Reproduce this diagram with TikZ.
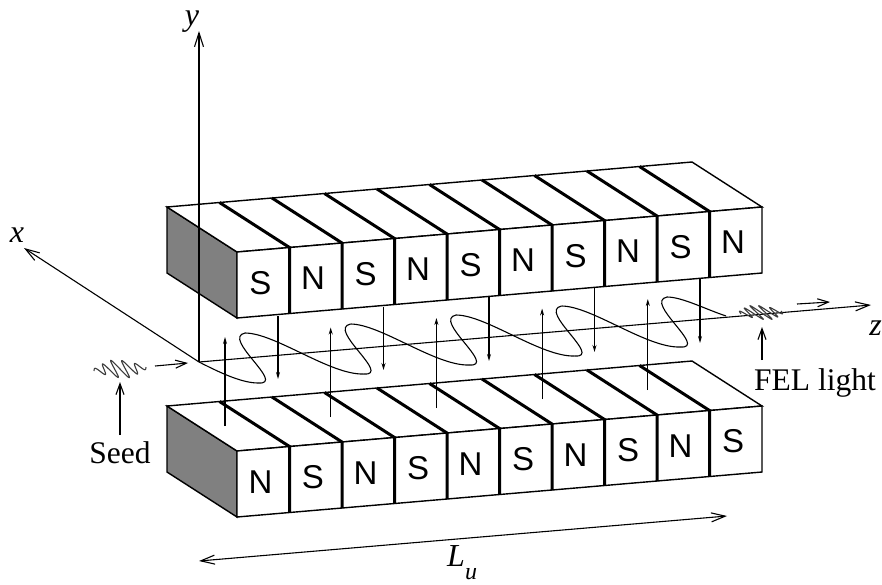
\documentclass[tikz,border=0pt]{standalone}
\usepackage{fontspec}
\setmainfont{Liberation Serif}
\setsansfont{Liberation Sans}
\usetikzlibrary{arrows.meta,positioning,calc}
\definecolor{facegray}{RGB}{128,128,128}
\definecolor{packetgray}{RGB}{60,60,60}
\tikzset{
  face/.style={draw=black, line width=1.4pt, fill=white, line join=miter},
  sideface/.style={face, fill=facegray},
  divider/.style={draw=black, line width=3pt},
  polelabel/.style={font=\fontsize{33}{33}\selectfont\sffamily, inner sep=0pt},
  textlabel/.style={font=\fontsize{31.5}{31.5}\selectfont, inner sep=0pt},
  mathlabel/.style={font=\fontsize{32}{32}\selectfont\itshape, inner sep=0pt},
  axis/.style={-{Straight Barb[length=14pt,width=9pt]}, line width=1.1pt},
  pointer/.style={-{Straight Barb[length=11pt,width=8pt]}, line width=1.1pt},
  field/.style={-{Stealth[length=7pt,width=4pt]}, line width=1.1pt},
  orbit/.style={line width=1.1pt},
  packet/.style={line width=1.1pt, packetgray, smooth, samples=160},
}
\begin{document}
\begin{tikzpicture}[x=1pt,y=-1pt]
\useasboundingbox (0,0) rectangle (882,584);
% magnets
\foreach \dy/\first/\second in {0/S/N,199/N/S}{
  \draw[sideface] (167,207+\dy) -- (237,252+\dy) -- (237,318+\dy) -- (167,273+\dy) -- cycle;
  \draw[face] (167,207+\dy) -- (692,162+\dy) -- (762,207+\dy) -- (237,252+\dy) -- cycle;
  \draw[face] (237,252+\dy) -- (762,207+\dy) -- (762,273+\dy) -- (237,318+\dy) -- cycle;
  \foreach \i in {1,...,9}{
    \draw[divider] ({167+52.5*\i},{207+\dy-4.5*\i}) -- ({237+52.5*\i},{252+\dy-4.5*\i}) -- ({237+52.5*\i},{318+\dy-4.5*\i});
  }
  \foreach \i in {0,2,4,6,8}{
    \node[polelabel] (pole-\dy-\i) at ({260.5+52.5*\i},{\dy+282.8-4.5*\i}) {\first};
  }
  \foreach \i in {1,3,5,7,9}{
    \node[polelabel] (pole-\dy-\i) at ({260.5+52.5*\i},{\dy+282.8-4.5*\i}) {\second};
  }
}
% axes
\coordinate (origin) at (199,362);
\coordinate (xtip) at (24,248);
\coordinate (ytip) at (199,31);
\coordinate (ztip) at (871,305);
\draw[axis] (origin) -- (xtip);
\draw[axis] (origin) -- (ytip);
\draw[axis] (origin) -- (ztip);
\node[mathlabel, anchor=base] (xlabel) at (17,242) {x};
\node[mathlabel, anchor=base] (ylabel) at (192,25) {y};
\node[mathlabel, anchor=base east] (zlabel) at (882,335) {z};
% orbit
\draw[orbit] (origin) .. controls (215,370) and (240,383) .. (258,383);
\foreach \i in {0,...,4}{
  \draw[orbit] ({258+105.5*\i},{383-9*\i}) .. controls ({287+105.5*\i},{385-9*\i}) and ({221+105.5*\i},{338-9*\i}) .. ({245+105.5*\i},{333-9*\i});
}
\foreach \i in {0,...,3}{
  \draw[orbit] ({245+105.5*\i},{333-9*\i}) .. controls ({275+105.5*\i},{333-9*\i}) and ({330+105.5*\i},{375-9*\i}) .. ({363.5+105.5*\i},{374-9*\i});
}
\draw[orbit] (667,297) .. controls (682,297) and (705,309) .. (726,316);
% field
\foreach \i in {0,...,4}{
  \draw[field] ({225+105.7*\i},{426-9*\i}) -- ({225+105.7*\i},{337-9.5*\i});
  \draw[field] ({278+105.5*\i},{316-9.5*\i}) -- ({278+105.5*\i},{379-9*\i});
}
% seed
\coordinate (seedwave) at (120,369);
\coordinate (seedtip) at (120,382);
\coordinate (seedout) at (155,366);
\coordinate (seedin) at (188,363);
\draw[packet, shift={(seedwave)}] plot[domain=-1:1] ({26*\x+0.75*9*exp(-1.6*\x*\x)*sin(900*\x)},{-2*\x+9*exp(-1.6*\x*\x)*sin(900*\x)});
\node[textlabel, anchor=base] (seedlabel) at (120,463) {Seed};
\draw[pointer] (120,435) -- (seedtip);
\draw[pointer] (seedout) -- (seedin);
% light
\coordinate (felwave) at (761,312.5);
\coordinate (feltail) at (762,360);
\coordinate (feltip) at (762,327);
\coordinate (felout) at (797,304);
\coordinate (felin) at (830,302);
\draw[packet, shift={(felwave)}] plot[domain=-1:1] ({20*\x+9*exp(-1.2*\x*\x)*sin(900*\x)},{-1.5*\x+7*exp(-1.2*\x*\x)*sin(900*\x)});
\node[textlabel, anchor=base] (fellabel) at (815,390) {FEL light};
\draw[pointer] (feltail) -- (feltip);
\draw[pointer] (felout) -- (felin);
% length
\coordinate (lengthleft) at (199,561);
\coordinate (lengthright) at (727,516);
\draw[axis, {Straight Barb[length=14pt,width=9pt]}-{Straight Barb[length=14pt,width=9pt]}] (lengthleft) -- (lengthright);
\node[mathlabel, anchor=base west] (lengthlabel) at (447,566) {L\raisebox{-13pt}{\fontsize{24}{24}\selectfont u}};
\end{tikzpicture}
\end{document}
